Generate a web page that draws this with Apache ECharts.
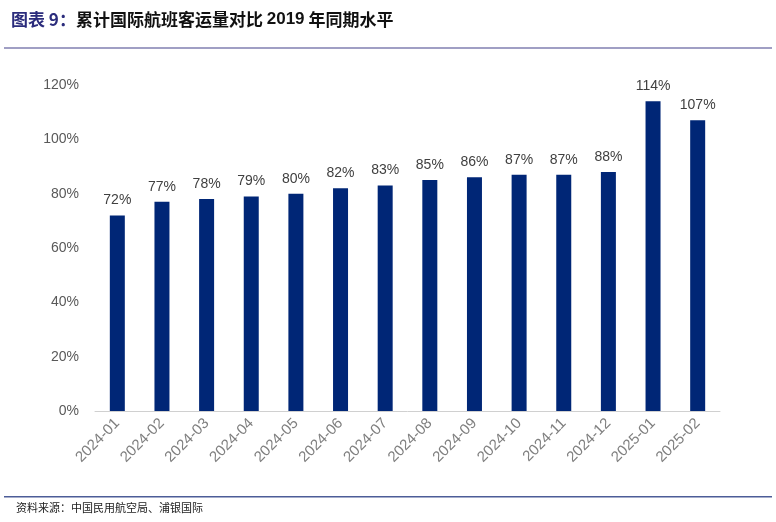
<!DOCTYPE html>
<html><head><meta charset="utf-8">
<script src="https://cdn.jsdelivr.net/npm/echarts@6/dist/echarts.min.js"></script>
<style>html,body{margin:0;padding:0;background:#fff}#c{width:776px;height:522px}</style>
</head><body><div id="c"></div>
<script>
var months = ['2024-01','2024-02','2024-03','2024-04','2024-05','2024-06','2024-07','2024-08','2024-09','2024-10','2024-11','2024-12','2025-01','2025-02'];
var ratio = [72, 77, 78, 79, 80, 82, 83, 85, 86, 87, 87, 88, 114, 107];

var myChart = echarts.init(document.getElementById('c'));
myChart.setOption({
    backgroundColor: '#fff',
    animation: false,
    title: {
        left: 6, top: 6,
        text: '{a|图表 9：}{b|累计国际航班客运量对比 }{c|2019}{b| 年同期水平}',
        textStyle: {
            rich: {
                a: {fontSize: 17, fontWeight: 'bold', color: '#2b2c7c', fontFamily: 'Noto Sans CJK SC'},
                b: {fontSize: 17, fontWeight: 'bold', color: '#111', fontFamily: 'Noto Sans CJK SC'},
                c: {fontSize: 17, fontWeight: 'bold', color: '#111', fontFamily: 'Liberation Sans'}
            }
        }
    },
    graphic: [
        {type: 'rect', shape: {x: 4, y: 47, width: 768, height: 2}, style: {fill: '#a09fc4'}},
        {type: 'rect', shape: {x: 4, y: 496, width: 768, height: 1.5}, style: {fill: '#4d5d98'}},
        {type: 'text', left: 16, top: 502, style: {text: '资料来源：中国民用航空局、浦银国际', fontSize: 11, fill: '#222', fontFamily: 'Noto Sans CJK SC'}}
    ],
    grid: {left: 95, right: 56, top: 85, bottom: 111},
    xAxis: {
        type: 'category',
        data: months,
        axisLine: {lineStyle: {color: '#d0d0d0'}},
        axisTick: {show: false},
        axisLabel: {rotate: 45, color: '#7f7f7f', fontSize: 15, fontFamily: 'Liberation Sans', margin: 10}
    },
    yAxis: {
        type: 'value',
        min: 0, max: 120, interval: 20,
        splitLine: {show: false},
        axisLine: {show: false},
        axisTick: {show: false},
        axisLabel: {formatter: '{value}%', color: '#595959', fontSize: 14, fontFamily: 'Liberation Sans', margin: 16}
    },
    series: [{
        type: 'bar',
        data: ratio,
        barWidth: 15,
        itemStyle: {color: '#002676'},
        label: {show: true, position: 'top', distance: 8, formatter: '{c}%', color: '#404040', fontSize: 14, fontFamily: 'Liberation Sans'}
    }]
});
</script></body></html>
